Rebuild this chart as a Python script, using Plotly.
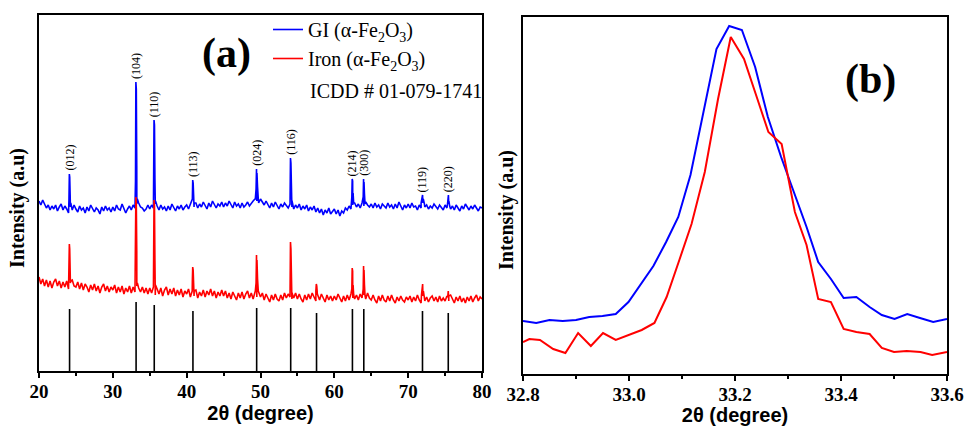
import plotly.graph_objects as go

SERIF = "Liberation Serif"
SANS = "Liberation Sans"

# ---------------- Panel (a): full XRD patterns ----------------
# baseline samples every 0.25 deg from 20 to 80 (intensity, arbitrary units)
GRID_START, GRID_STEP = 20.0, 0.25
GI_BASE = [
    170,166,171,167,163,166,161,165,162,166,160,164,167,161,165,162,158,164,161,166,
    162,159,165,161,163,158,164,160,166,162,159,163,161,157,164,160,165,161,163,159,
    164,160,166,162,161,167,163,158,162,165,161,166,163,167,168,164,163,160,162,166,
    162,166,163,167,165,161,166,162,164,160,165,161,167,163,160,165,162,166,161,164,
    166,162,167,170,164,168,163,167,164,169,165,162,168,164,170,166,163,167,165,169,
    164,168,165,170,166,163,169,165,167,163,168,164,166,169,165,168,170,172,170,168,
    172,169,166,170,167,163,168,164,169,166,162,167,164,168,165,163,167,164,162,166,
    163,167,161,165,162,166,160,164,161,165,159,163,158,162,156,161,158,163,157,160,
    162,157,161,155,160,158,163,161,165,162,166,168,164,167,163,168,165,169,166,164,
    167,163,168,164,166,162,167,165,163,168,164,166,162,167,163,169,165,161,166,163,
    167,163,168,164,165,161,166,163,168,164,166,162,165,163,167,164,162,166,164,161,
    166,163,167,162,165,161,166,163,160,165,162,167,164,161,165,162,166,163,160,164,
    163,
]
IRON_BASE = [
    94,87,92,85,91,84,90,83,89,92,85,90,83,89,84,90,82,88,91,85,
    84,89,82,88,81,87,84,79,86,81,87,80,85,78,84,87,80,85,79,84,
    81,86,78,84,79,85,77,83,79,85,78,84,79,85,83,79,84,78,83,77,
    83,78,84,76,82,77,83,75,81,84,76,82,77,83,75,81,76,82,74,80,
    77,82,74,80,75,81,73,79,75,81,74,80,76,82,75,80,73,79,75,81,
    75,80,73,78,72,79,74,71,78,73,79,72,77,80,73,78,72,77,74,79,
    74,78,71,77,72,69,76,71,77,72,70,76,71,78,73,77,74,72,73,78,
    72,77,72,69,76,71,77,72,78,73,70,76,71,77,72,69,76,71,75,70,
    75,71,77,72,69,75,70,76,71,77,73,72,76,71,77,73,76,72,78,73,
    71,76,71,68,75,70,76,71,69,75,70,76,71,68,74,70,75,71,69,74,
    71,75,69,74,70,76,71,68,75,70,74,69,73,75,70,74,69,75,70,73,
    70,75,70,76,71,68,74,70,75,69,73,68,74,70,75,69,73,76,70,74,
    72,
]

# peak profile points (2theta, intensity)
GI_PEAK_X = [24.06,24.11,24.16,24.22,24.30,
             33.07,33.12,33.18,33.24,33.32,
             35.53,35.58,35.64,35.70,35.78,
             40.77,40.82,40.88,40.94,41.02,
             49.30,49.40,49.46,49.52,49.60,49.70,
             54.00,54.06,54.12,54.18,54.27,
             62.37,62.42,62.48,62.54,62.62,
             63.91,63.96,64.02,64.08,64.16,
             71.75,71.88,71.95,72.05,72.20,
             75.33,75.40,75.45,75.52,75.62]
GI_PEAK_Y = [172,197,194,176,168,
             190,289,282,205,172,
             180,251,246,192,170,
             172,191,188,176,168,
             172,182,202,198,184,172,
             175,213,208,185,170,
             174,192,190,178,168,
             174,192,189,177,167,
             168,174,176,172,167,
             167,175,176,170,165]
IRON_PEAK_X = [24.06,24.11,24.16,24.22,24.30,
               33.07,33.12,33.18,33.24,33.32,
               35.53,35.58,35.64,35.70,35.78,
               40.77,40.82,40.88,40.94,41.02,
               49.30,49.40,49.46,49.52,49.60,49.70,
               54.00,54.06,54.12,54.18,54.27,
               57.50,57.56,57.62,57.70,
               62.37,62.42,62.48,62.54,62.62,
               63.91,63.96,64.02,64.08,64.16,
               71.80,71.90,71.96,72.06,72.20,
               75.36,75.43,75.50]
IRON_PEAK_Y = [95,127,122,100,90,
               110,174,168,120,88,
               100,171,165,110,86,
               90,104,101,88,80,
               80,88,116,111,92,80,
               85,129,122,95,78,
               80,87,85,77,
               82,103,100,86,76,
               82,105,101,86,75,
               76,84,87,80,73,
               74,80,75]

# ICDD 01-079-1741 reference sticks
REF_POS = [24.14, 33.15, 35.61, 40.85, 49.48, 54.09, 57.59, 62.45, 63.99, 71.94, 75.43]
REF_HEIGHT = [62, 69, 66, 60, 63, 63, 58, 62, 62, 60, 58]

# hkl labels on the GI pattern
LABELS = ["(012)", "(104)", "(110)", "(113)", "(024)", "(116)", "(214)", "(300)", "(119)", "(220)"]
LABEL_X = [24.14, 33.15, 35.61, 40.85, 49.48, 54.09, 62.45, 63.99, 71.94, 75.43]
LABEL_TOP = [197, 289, 251, 191, 202, 213, 192, 192, 176, 176]

# ---------------- Panel (b): (104) peak zoom ----------------
GI_ZOOM_X = [32.800,32.825,32.850,32.875,32.900,32.925,32.950,32.975,32.999,33.022,33.046,
             33.070,33.093,33.116,33.140,33.165,33.189,33.213,33.238,33.262,33.287,33.311,
             33.335,33.357,33.381,33.405,33.429,33.454,33.477,33.501,33.525,33.549,33.574,33.600]
GI_ZOOM_Y = [53,51,54,53,54,57,58,60,72,89,108,
             132,157,199,262,325,348,344,307,257,217,182,
             147,112,95,76,77,67,59,55,60,56,52,55]
IRON_ZOOM_X = [32.800,32.812,32.832,32.857,32.880,32.904,32.928,32.951,32.975,32.998,33.024,
               33.048,33.071,33.095,33.118,33.143,33.168,33.192,33.217,33.241,33.263,33.288,
               33.313,33.335,33.357,33.381,33.405,33.429,33.454,33.477,33.500,33.524,33.550,
               33.572,33.600]
IRON_ZOOM_Y = [32,35,34,25,21,41,28,41,34,39,44,
               51,77,114,150,202,275,337,315,277,242,230,
               162,129,75,72,45,42,40,26,22,23,22,
               19,22]


def merge(base, px, py):
    bx = [GRID_START + GRID_STEP * i for i in range(len(base))]
    pts = sorted(list(zip(bx, base)) + list(zip(px, py)))
    return [p[0] for p in pts], [p[1] for p in pts]


gi_x, gi_y = merge(GI_BASE, GI_PEAK_X, GI_PEAK_Y)
fe_x, fe_y = merge(IRON_BASE, IRON_PEAK_X, IRON_PEAK_Y)

ref_x, ref_y = [], []
for p, h in zip(REF_POS, REF_HEIGHT):
    ref_x += [p, p, None]
    ref_y += [0, h, None]

BLUE = "#0000FF"
RED = "#FF0000"

fig = go.Figure()
fig.add_trace(go.Scatter(x=gi_x, y=gi_y, mode="lines", line=dict(color=BLUE, width=1.6),
                         name="GI (α-Fe<sub>2</sub>O<sub>3</sub>)", legendgroup="g1",
                         xaxis="x", yaxis="y"))
fig.add_trace(go.Scatter(x=fe_x, y=fe_y, mode="lines", line=dict(color=RED, width=1.6),
                         name="Iron (α-Fe<sub>2</sub>O<sub>3</sub>)", legendgroup="g2",
                         xaxis="x", yaxis="y"))
fig.add_trace(go.Scatter(x=ref_x, y=ref_y, mode="lines", line=dict(color="black", width=1.6),
                         showlegend=False, xaxis="x", yaxis="y"))
fig.add_trace(go.Scatter(x=GI_ZOOM_X, y=GI_ZOOM_Y, mode="lines", line=dict(color=BLUE, width=2),
                         showlegend=False, xaxis="x2", yaxis="y2"))
fig.add_trace(go.Scatter(x=IRON_ZOOM_X, y=IRON_ZOOM_Y, mode="lines", line=dict(color=RED, width=2),
                         showlegend=False, xaxis="x2", yaxis="y2"))

W, H = 965, 426


def dx(px):
    return px / W


def dy(py):
    return 1 - py / H


tickfont = dict(family=SERIF, size=19, color="black", weight="bold")
titlefont = dict(family=SANS, size=20, color="black", weight="bold")

xcommon = dict(showline=True, linecolor="black", linewidth=2, mirror=True, ticks="outside",
               ticklen=5, tickwidth=2, tickcolor="black", showgrid=False, zeroline=False,
               tickfont=tickfont, automargin=False, ticklabelstandoff=-3)
ycommon = dict(showline=True, linecolor="black", linewidth=2, mirror=True, ticks="",
               showticklabels=False, showgrid=False, zeroline=False, automargin=False)

annotations = []
for lab, lx, lt in zip(LABELS, LABEL_X, LABEL_TOP):
    annotations.append(dict(x=lx, y=lt + 1, xref="x", yref="y", text=lab, showarrow=False,
                            textangle=-90, yanchor="bottom", xanchor="center",
                            font=dict(family=SERIF, size=12, color="black")))

annotations += [
    dict(x=dx(226), y=dy(53), xref="paper", yref="paper", text="<b>(a)</b>", showarrow=False,
         xanchor="center", yanchor="middle", font=dict(family=SERIF, size=42, color="black")),
    dict(x=dx(870), y=dy(79), xref="paper", yref="paper", text="<b>(b)</b>", showarrow=False,
         xanchor="center", yanchor="middle", font=dict(family=SERIF, size=42, color="black")),
    dict(x=dx(308), y=dy(91), xref="paper", yref="paper", text="ICDD # 01-079-1741",
         showarrow=False, xanchor="left", yanchor="middle",
         font=dict(family=SERIF, size=20, color="black")),
    dict(x=dx(18), y=dy(208), xref="paper", yref="paper", text="<b>Intensity (a.u)</b>",
         showarrow=False, textangle=-90, xanchor="center", yanchor="middle",
         font=dict(family=SERIF, size=20, color="black")),
    dict(x=dx(506), y=dy(210), xref="paper", yref="paper", text="<b>Intensity (a.u)</b>",
         showarrow=False, textangle=-90, xanchor="center", yanchor="middle",
         font=dict(family=SERIF, size=20, color="black")),
]

fig.update_layout(
    width=W, height=H, margin=dict(l=0, r=0, t=0, b=0, autoexpand=False),
    paper_bgcolor="white", plot_bgcolor="white",
    showlegend=True,
    legend=dict(x=dx(268), y=dy(10), xanchor="left", yanchor="top", bgcolor="rgba(0,0,0,0)",
                font=dict(family=SERIF, size=20, color="black"), traceorder="normal",
                itemwidth=30, tracegroupgap=0),
    xaxis=dict(domain=[dx(39), dx(482)], range=[20, 80], dtick=10, anchor="y",
               minor=dict(dtick=5, ticks="outside", ticklen=3, tickwidth=1.5, tickcolor="black"),
               title=dict(text="2θ (degree)", font=titlefont, standoff=4), **xcommon),
    yaxis=dict(domain=[dy(371), dy(15)], range=[0, 356], anchor="x", **ycommon),
    xaxis2=dict(domain=[dx(523), dx(947)], range=[32.8, 33.6], dtick=0.2, tickformat=".1f",
                anchor="y2",
                minor=dict(dtick=0.1, ticks="outside", ticklen=3, tickwidth=1.5, tickcolor="black"),
                title=dict(text="2θ (degree)", font=titlefont, standoff=4), **xcommon),
    yaxis2=dict(domain=[dy(374), dy(17)], range=[0, 357], anchor="x2", **ycommon),
    annotations=annotations,
)

fig.write_html("out.html")
